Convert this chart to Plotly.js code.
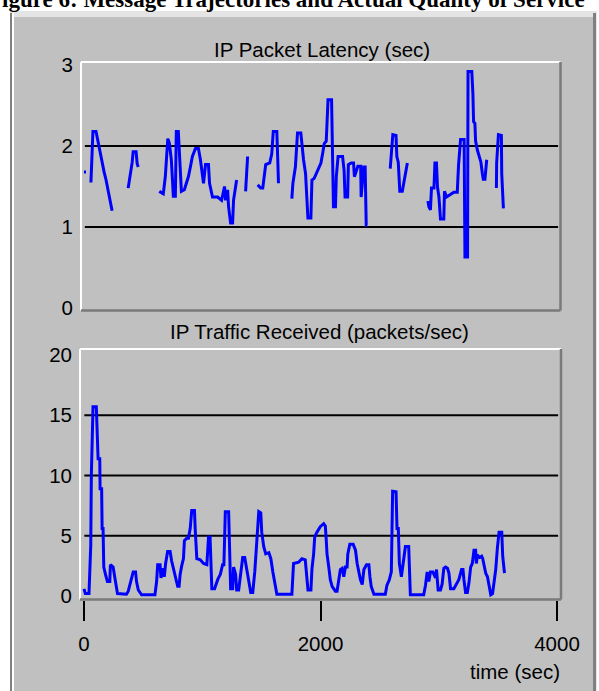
<!DOCTYPE html>
<html><head><meta charset="utf-8">
<script src="https://cdn.plot.ly/plotly-3.0.1.min.js"></script>
<style>html,body{margin:0;padding:0;background:#fff;overflow:hidden;} #chart{width:599px;height:691px;}</style>
</head><body><div id="chart"></div><script>
// ---- data ----
const latencyTime = [0,17,30, 59,68,76,102,119,136,153,170,187,204,221,238,300,
 374,391,408,416,441,450,459,520,
 637,671,688,701,709,722,739,747,756,773,781,798,807,815,824,849,866,883,900,917,943,968,985,1002,1011,1028,1053,1062,1087,1130,1164,1189,1198,1215,1223,1240,1257,1265,1282,1291,1330,
 1367,1376,1384,1420,
 1469,1495,1512,1524,1537,1571,1588,1601,1631,1639,1645,1700,
 1758,1767,1788,1806,1834,1843,1857,1874,1885,1894,1919,1928,1947,1964,1984,2004,2021,2032,2049,2055,2064,2094,2102,2110,2127,2134,2149,2187,2200,2208,2230,2236,2259,2280,2287,2302,2316,2340,2344,2366,2378,2387,2395,2500,
 2590,2599,2612,2639,2646,2658,2663,2671,2692,2712,2735,2800,
 2909,2917,2930,2939,2960,2968,2981,2990,3002,3015,3043,3049,3066,3086,3108,3128,3157,3168,3185,3215,3222,3244,3248,3280,3289,3295,3306,3312,3327,3340,3357,3369,3377,3391,3400,3406,3450,
 3488,3490,3505,3530,3533,3547];
const latency = [1.68,1.68,null, 1.55,1.85,2.18,2.18,2.05,1.95,1.82,1.68,1.58,1.45,1.30,1.20,null,
 1.48,1.62,1.80,1.93,1.93,1.78,1.74,null,
 1.44,1.41,1.62,1.87,2.09,2.04,1.83,1.62,1.38,1.38,2.18,2.18,1.91,1.70,1.44,1.46,1.54,1.62,1.74,1.87,1.97,1.97,1.83,1.66,1.54,1.77,1.77,1.54,1.37,1.37,1.33,1.50,1.33,1.46,1.25,1.05,1.05,1.33,1.50,1.58,null,
 1.44,1.62,1.87,null,
 1.52,1.48,1.48,1.64,1.77,1.79,1.90,2.18,2.18,1.83,1.54,null,
 1.35,1.54,1.74,2.16,2.16,2.00,1.83,1.66,1.40,1.11,1.11,1.58,1.60,1.66,1.72,1.79,1.93,2.03,2.06,2.30,2.57,2.57,1.91,1.25,1.25,1.62,1.87,1.87,1.70,1.37,1.37,1.77,1.79,1.79,1.62,1.70,1.75,1.75,1.37,1.74,1.74,1.02,1.02,null,
 1.72,1.91,2.14,2.13,1.87,1.80,1.62,1.44,1.44,1.60,1.79,null,
 1.32,1.25,1.21,1.48,1.48,1.79,1.79,1.49,1.37,1.10,1.10,1.44,1.37,1.39,1.41,1.43,1.43,1.77,2.08,2.08,0.63,0.63,2.92,2.92,2.65,2.30,2.28,2.06,1.95,1.87,1.80,1.66,1.59,1.59,1.83,1.83,null,
 1.48,1.79,2.14,2.13,1.66,1.23];

const trafficTime = [0,11,42,47,57,62,76,104,113,119,133,136,149,153,161,167,184,198,218,223,246,255,266,283,359,374,388,402,416,436,444,459,487,600,614,623,643,651,662,679,690,707,728,741,756,775,792,804,813,826,841,849,869,883,898,911,934,940,954,983,1011,1039,1053,1066,1076,1081,1104,1115,1132,1153,1172,1183,1195,1223,1231,1240,1257,1265,1282,1291,1308,1325,1342,1359,1376,1393,1410,1427,1444,1461,1478,1495,1503,1520,1537,1563,1580,1597,1614,1631,1758,1772,1815,1843,1871,1885,1894,1919,1928,1942,1951,1970,1998,2027,2041,2049,2055,2070,2083,2098,2126,2140,2155,2168,2183,2197,2211,2225,2231,2248,2276,2296,2310,2325,2338,2353,2367,2389,2409,2418,2429,2452,2548,2562,2582,2599,2605,2610,2639,2647,2658,2667,2684,2703,2718,2746,2752,2760,2873,2888,2902,2916,2930,2950,2973,2981,2995,3015,3029,3043,3057,3074,3086,3100,3128,3142,3170,3193,3205,3213,3227,3242,3255,3270,3284,3298,3312,3318,3327,3346,3363,3372,3383,3397,3412,3425,3440,3455,3468,3482,3496,3510,3533,3541,3556];
const traffic = [0.6,0.2,0.2,2.2,4.2,10.0,15.7,15.7,13.4,11.4,11.4,8.9,8.9,5.6,5.6,2.4,1.7,1.2,1.2,2.6,2.4,1.7,1.2,0.2,0.15,0.4,0.9,1.3,2.0,2.0,1.2,0.5,0.1,0.1,1.2,2.6,2.6,1.5,2.3,1.6,2.7,3.7,3.7,2.9,2.2,1.5,0.8,0.8,1.8,2.5,3.1,4.6,4.8,4.8,5.6,7.1,7.1,5.6,3.1,3.0,2.7,2.6,4.9,4.9,2.6,0.6,0.6,1.0,1.4,1.8,2.6,2.6,7.0,7.0,3.5,0.6,0.6,2.4,1.8,0.5,0.5,2.0,3.2,3.2,2.3,1.2,0.3,0.3,2.0,4.5,7.0,6.9,5.3,4.1,3.5,3.6,3.1,2.0,1.0,0.15,0.15,2.7,2.8,3.1,3.0,1.35,0.5,0.5,2.3,3.5,4.9,5.3,5.75,6.0,5.8,4.6,3.5,2.4,1.35,0.8,0.4,0.4,1.35,2.2,2.3,1.6,2.4,2.4,3.5,4.3,4.3,3.8,2.7,1.9,1.35,0.95,2.2,2.6,2.6,1.6,0.8,0.15,0.15,0.9,1.35,2.0,4.9,8.7,8.65,5.6,5.6,2.7,1.6,3.3,4.1,4.1,2.4,0.1,0.1,0.9,2.0,1.2,2.0,2.0,1.5,2.2,0.5,0.5,1.0,2.3,2.4,2.3,1.9,0.6,0.6,0.9,1.35,2.2,2.2,1.35,0.3,0.3,1.05,2.4,2.7,3.8,3.8,2.7,3.4,3.2,3.3,3.1,2.4,1.9,1.6,0.9,0.1,0.2,1.05,2.2,4.0,5.3,5.3,3.3,1.9];

const latencyTicks = [0,1,2,3];
const latencyGrid = [1,2];
const trafficTicks = [0,5,10,15,20];
const trafficGrid = [5,10,15];
const timeTicks = [0,2000,4000];
const titleTop = 'IP Packet Latency (sec)';
const titleBottom = 'IP Traffic Received (packets/sec)';
const xTitle = 'time (sec)';
const caption = 'Figure 6: Message Trajectories and Actual Quality of Service';

// ---- layout helpers (pixel -> paper) ----
const W=599,H=691;
const fx=p=>p/W, fy=p=>1-p/H;
const FONT='Liberation Sans, Arial, sans-serif';
const BLUE='#0000ff';

const traces = [
 {x:latencyTime,y:latency,xaxis:'x',yaxis:'y',mode:'lines',connectgaps:false,line:{color:BLUE,width:3},hoverinfo:'skip'},
 {x:trafficTime,y:traffic,xaxis:'x2',yaxis:'y2',mode:'lines',connectgaps:false,line:{color:BLUE,width:3},hoverinfo:'skip'}
];

const shapes = [];
function prect(x0,y0,x1,y1,color){shapes.push({type:'rect',xref:'paper',yref:'paper',x0:fx(x0),x1:fx(x1),y0:fy(y1),y1:fy(y0),fillcolor:color,line:{width:0},layer:'below'});}
prect(10,11,597,691,'#e4e4e4');
prect(10,13,12,691,'#808080');
prect(12,13,14,691,'#ffffff');
prect(14,17,593,691,'#c0c0c0');
prect(593,13,596,691,'#808080');

function grid(xr,yr,vals,a,b){vals.forEach(v=>shapes.push({type:'line',xref:xr+' domain',yref:yr,x0:a,x1:b,y0:v,y1:v,line:{color:'#000',width:2},layer:'below'}));}
grid('x','y',latencyGrid,0.008,0.995);
grid('x2','y2',trafficGrid,0.009,0.994);

function border(xr,yr){
 const d={xref:xr+' domain',yref:yr+' domain',type:'line',layer:'above'};
 shapes.push(Object.assign({},d,{x0:0,x1:1,y0:1,y1:1,line:{color:'#ffffff',width:2}}));
 shapes.push(Object.assign({},d,{x0:0,x1:0,y0:0,y1:1,line:{color:'#ffffff',width:2}}));
 shapes.push(Object.assign({},d,{x0:0,x1:1,y0:0,y1:0,line:{color:'#7a7a7a',width:2.5}}));
 shapes.push(Object.assign({},d,{x0:1,x1:1,y0:0,y1:1,line:{color:'#7a7a7a',width:2.5}}));
}
border('x','y'); border('x2','y2');

const annotations = [
 {text:caption,xref:'paper',yref:'paper',x:fx(-14),y:fy(14),xanchor:'left',yanchor:'bottom',showarrow:false,font:{family:'Liberation Serif, Times New Roman, serif',size:23,color:'#000',weight:'bold'}},
 {text:titleTop,xref:'paper',yref:'paper',x:fx(322),y:fy(49.5),xanchor:'center',yanchor:'middle',showarrow:false,font:{family:FONT,size:20.5,color:'#000'}},
 {text:titleBottom,xref:'paper',yref:'paper',x:fx(319),y:fy(331),xanchor:'center',yanchor:'middle',showarrow:false,font:{family:FONT,size:20.5,color:'#000'}},
 {text:xTitle,xref:'paper',yref:'paper',x:fx(562),y:fy(671),xanchor:'right',yanchor:'middle',showarrow:false,font:{family:FONT,size:20.5,color:'#000'}}
];

const ax = {showgrid:false,zeroline:false,showline:false,fixedrange:true,tickfont:{family:FONT,size:20.5,color:'#000'}};
const layout = {
 width:W,height:H,margin:{l:0,r:0,t:0,b:0,pad:0},
 paper_bgcolor:'#ffffff',plot_bgcolor:'#c0c0c0',showlegend:false,
 font:{family:FONT,size:20.5,color:'#000'},
 xaxis:Object.assign({},ax,{domain:[fx(81),fx(560.5)],range:[-25,4030],anchor:'y',showticklabels:false,ticks:''}),
 yaxis:Object.assign({},ax,{domain:[fy(310.5),fy(62)],range:[-0.031,3.037],anchor:'x',tickvals:latencyTicks,ticks:'',ticklabelstandoff:7}),
 xaxis2:Object.assign({},ax,{domain:[fx(80),fx(561)],range:[-34,4034],anchor:'y2',tickvals:timeTicks,ticks:'outside',ticklen:20,tickwidth:2,tickcolor:'#000',ticklabelstandoff:6}),
 yaxis2:Object.assign({},ax,{domain:[fy(599.5),fy(349)],range:[-0.29,20.5],anchor:'x2',tickvals:trafficTicks,ticks:'',ticklabelstandoff:7}),
 shapes:shapes,annotations:annotations
};
Plotly.newPlot('chart',traces,layout,{staticPlot:true,displayModeBar:false});
</script></body></html>
